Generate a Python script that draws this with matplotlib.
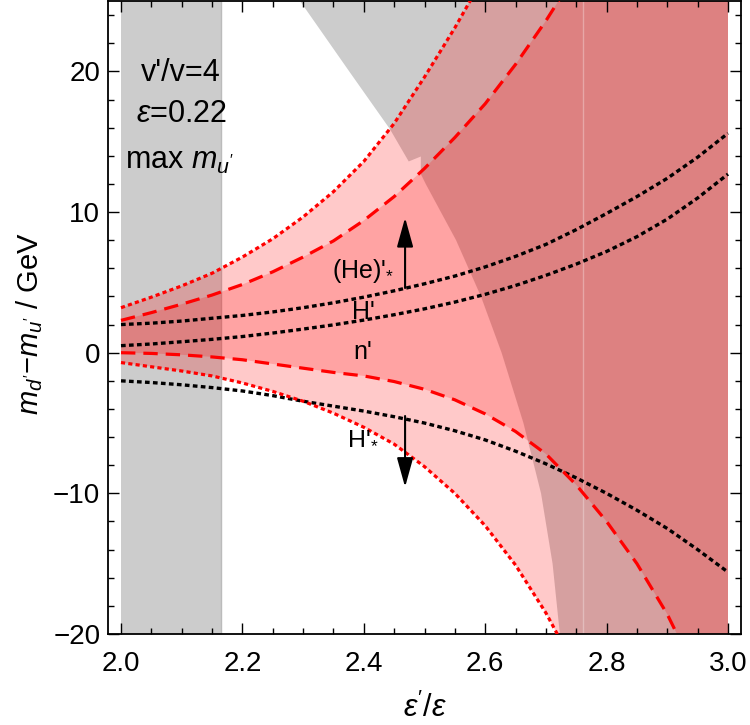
import matplotlib
matplotlib.use("Agg")
import matplotlib.pyplot as plt

plt.rcParams.update({
    "font.family": "Liberation Sans",
    "mathtext.fontset": "custom",
    "mathtext.rm": "Liberation Sans",
    "mathtext.it": "Liberation Sans:italic",
    "mathtext.fallback": "stixsans",
    "axes.linewidth": 1.3,
})

xs = [2.00, 2.05, 2.10, 2.15, 2.20, 2.25, 2.30, 2.35, 2.40, 2.45, 2.50,
      2.55, 2.60, 2.65, 2.70, 2.75, 2.80, 2.85, 2.90, 2.95, 3.00]

# red band edges (GeV)
dot_up = [3.2, 3.95, 4.75, 5.65, 6.8, 8.1, 9.65, 11.45, 13.6, 16.3, 19.6,
          23.1, 26.9, 31.0, 35.6, 40.7, 46.3, 52.5, 59.3, 66.8, 75.0]
dash_up = [2.3, 2.85, 3.45, 4.1, 4.85, 5.75, 6.8, 7.95, 9.4, 11.1, 13.1,
           15.3, 17.7, 20.5, 23.6, 27.0, 30.6, 34.5, 38.8, 43.5, 48.5]
dash_lo = [0.0, -0.05, -0.15, -0.3, -0.5, -0.8, -1.1, -1.4, -1.65, -2.05, -2.6,
           -3.35, -4.35, -5.6, -7.2, -9.4, -12.0, -15.0, -18.6, -23.0, -28.0]
dot_lo = [-0.7, -1.0, -1.3, -1.65, -2.15, -2.75, -3.45, -4.3, -5.3, -6.5, -8.1,
          -10.0, -12.3, -15.1, -18.5, -22.5, -27.0, -32.0, -37.5, -43.5, -50.0]

# black threshold curves
he_star = [2.0, 2.1, 2.25, 2.45, 2.65, 2.9, 3.2, 3.55, 3.95, 4.4, 4.9,
           5.45, 6.1, 6.85, 7.7, 8.75, 9.9, 11.1, 12.4, 13.9, 15.6]
h_prime = [0.5, 0.62, 0.78, 0.95, 1.15, 1.4, 1.68, 1.98, 2.32, 2.7, 3.12,
           3.6, 4.15, 4.78, 5.5, 6.3, 7.2, 8.25, 9.5, 11.0, 12.7]
h_star = [-2.0, -2.12, -2.28, -2.48, -2.72, -3.05, -3.45, -3.8, -4.15, -4.55, -5.0,
          -5.55, -6.2, -7.0, -7.9, -8.9, -10.0, -11.2, -12.5, -14.0, -15.6]

# excluded (gray) regions
band_x = (2.0, 2.165)
gray_bx = [2.295, 2.376, 2.443, 2.474, 2.494, 2.494, 2.502, 2.552, 2.593,
           2.627, 2.663, 2.692, 2.711, 2.723]
gray_by = [25.0, 20.0, 15.9, 13.6, 13.95, 12.7, 12.0, 8.0, 4.0,
           0.0, -5.0, -10.0, -15.0, -20.0]
seam_x = 2.761

labels = ["(He)'${}_{*}$", "H'", "n'", "H'${}_{*}$"]
label_y = [5.8, 2.9, 0.07, -6.0]
label_x = 2.399
arrow_x = 2.468
arrow_up = (4.6, 9.6)
arrow_dn = (-4.5, -9.55)

GRAY = "#cccccc"

fig = plt.figure(figsize=(7.5, 7.25), dpi=100)
ax = fig.add_axes([0.144, 0.1255, 0.844, 0.873])

ax.axvspan(*band_x, color=GRAY, lw=0, zorder=0)
ax.axvline(band_x[1], color="#bbbbbb", lw=1, zorder=0.5)
ax.fill(gray_bx + [3.0, 3.0], gray_by + [-20, 25], color=GRAY, lw=0, zorder=0)

ax.fill(xs + xs[::-1], dot_up + dot_lo[::-1], color="red", alpha=0.21, lw=0, zorder=1)
ax.fill(xs + xs[::-1], dash_up + dash_lo[::-1], color="red", alpha=0.19, lw=0, zorder=1)
ax.axvline(seam_x, color="white", alpha=0.3, lw=1, zorder=1.5)

for ys in (he_star, h_prime, h_star):
    ax.plot(xs, ys, color="black", lw=2.4, dashes=(1.4, 1.0), zorder=2)
for ys in (dot_up, dot_lo):
    ax.plot(xs, ys, color="red", lw=2.3, dashes=(1.3, 1.0), zorder=3)
for ys in (dash_up, dash_lo):
    ax.plot(xs, ys, color="red", lw=2.3, dashes=(4.5, 2.5), zorder=3)

arrow = dict(arrowstyle="-|>,head_length=0.9,head_width=0.25", color="black",
             lw=1.5, mutation_scale=20, shrinkA=0, shrinkB=0)
ax.annotate("", xy=(arrow_x, arrow_up[1]), xytext=(arrow_x, arrow_up[0]), arrowprops=arrow, zorder=4)
ax.annotate("", xy=(arrow_x, arrow_dn[1]), xytext=(arrow_x, arrow_dn[0]), arrowprops=arrow, zorder=4)

for t, y in zip(labels, label_y):
    ax.text(label_x, y, t, fontsize=18, ha="center", va="center", zorder=5)

ax.text(2.099, 19.86, "v'/v=4", fontsize=22, ha="center", va="center")
ax.text(2.100, 17.0, r"$\epsilon$=0.22", fontsize=22, ha="center", va="center")
ax.text(2.097, 13.6, r"max $m_{u'}$", fontsize=22, ha="center", va="center")

ax.set_xlim(2.0 - 13 / 607, 3.0 + 13 / 607)
ax.set_ylim(-20, 25)
ax.set_xticks([2.0, 2.2, 2.4, 2.6, 2.8, 3.0])
ax.set_xticklabels(["2.0", "2.2", "2.4", "2.6", "2.8", "3.0"])
ax.set_xticks([2.0 + 0.05 * i for i in range(21)], minor=True)
ax.set_yticks([-20, -10, 0, 10, 20])
ax.set_yticks(list(range(-20, 26, 2)), minor=True)
ax.tick_params(which="both", direction="in", top=True, right=True, labelsize=20, width=1)
ax.tick_params(which="major", length=8)
ax.tick_params(which="minor", length=4)
ax.tick_params(axis="x", pad=12)
ax.tick_params(axis="y", pad=5.5)

ax.set_xlabel(r"$\epsilon'/\epsilon$", fontsize=22)
ax.xaxis.set_label_coords(0.5, -0.092)
ax.set_ylabel("$m_{d'}$\u2212$m_{u'}$ / GeV", fontsize=21)
ax.yaxis.set_label_coords(-0.1, 0.49)

fig.savefig("out.png", dpi=100)
